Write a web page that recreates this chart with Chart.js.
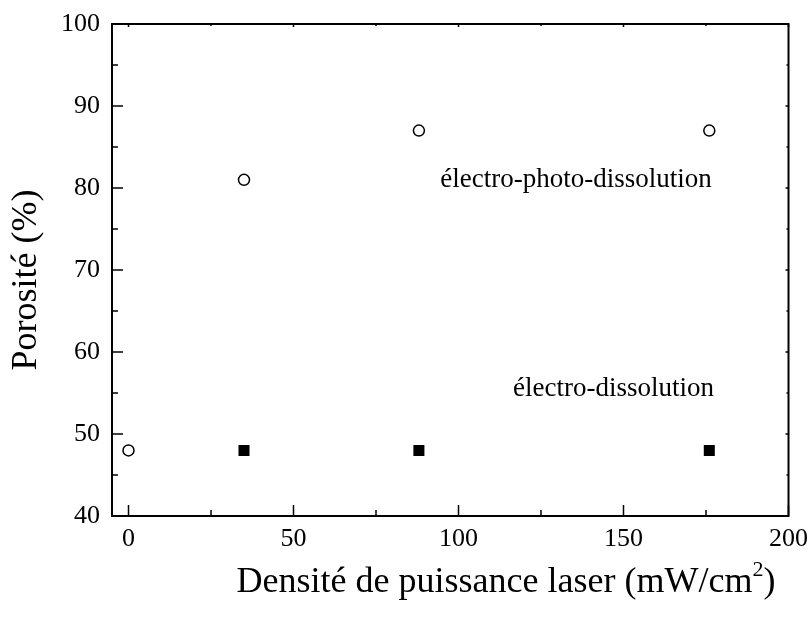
<!DOCTYPE html>
<html lang="fr">
<head>
  <meta charset="UTF-8">
  <title>Porosité vs densité de puissance laser</title>
  <script src="https://cdn.jsdelivr.net/npm/chart.js"></script>
  <style>
    body { margin: 0; background: #fff; }
    #wrap { width: 808px; height: 620px; }
  </style>
</head>
<body>
  <div id="wrap"><canvas id="chart" width="808" height="620"></canvas></div>
  <script>
    // data
    const photoX = [0, 35, 88, 176];
    const photoY = [48, 81, 87, 87];
    const darkX = [35, 88, 176];
    const darkY = [48, 48, 48];
    const xTicks = [0, 50, 100, 150, 200];
    const xMinor = [25, 75, 125, 175];
    const yTicks = [40, 50, 60, 70, 80, 90, 100];
    const yMinor = [45, 55, 65, 75, 85, 95];
    const labels = [
      { text: 'électro-photo-dissolution', x: 94.5, y: 81 },
      { text: 'électro-dissolution', x: 116.5, y: 55.5 }
    ];
    const xTitle = 'Densité de puissance laser (mW/cm';
    const yTitle = 'Porosité (%)';

    const SERIF = '"Liberation Serif", "Times New Roman", serif';

    // box, inward ticks, annotations and axis titles
    const framePlugin = {
      id: 'frame',
      afterDatasetsDraw(chart) {
        const { ctx, chartArea: a, scales: { x, y } } = chart;
        ctx.save();
        ctx.strokeStyle = '#000';
        ctx.lineWidth = 2;
        ctx.strokeRect(a.left, a.top, a.right - a.left, a.bottom - a.top);

        ctx.lineWidth = 1.5;
        ctx.beginPath();
        const tick = (vals, len, mirror) => {
          vals.forEach(v => {
            const px = x.getPixelForValue(v);
            ctx.moveTo(px, a.bottom); ctx.lineTo(px, a.bottom - len);
            ctx.moveTo(px, a.top); ctx.lineTo(px, a.top + mirror);
          });
        };
        tick(xTicks, 11, 3);
        tick(xMinor, 6, 2);
        const ytick = (vals, len, mirror) => {
          vals.forEach(v => {
            const py = y.getPixelForValue(v);
            ctx.moveTo(a.left, py); ctx.lineTo(a.left + len, py);
            ctx.moveTo(a.right, py); ctx.lineTo(a.right - mirror, py);
          });
        };
        ytick(yTicks, 11, 3);
        ytick(yMinor, 6, 2);
        ctx.stroke();

        ctx.fillStyle = '#000';
        ctx.font = '27px ' + SERIF;
        ctx.textBaseline = 'middle';
        ctx.textAlign = 'left';
        labels.forEach(l => {
          ctx.fillText(l.text, x.getPixelForValue(l.x), y.getPixelForValue(l.y));
        });

        // x title with superscript 2
        ctx.font = '36px ' + SERIF;
        ctx.textBaseline = 'alphabetic';
        const w1 = ctx.measureText(xTitle).width;
        ctx.font = '22px ' + SERIF;
        const w2 = ctx.measureText('2').width;
        ctx.font = '36px ' + SERIF;
        const w3 = ctx.measureText(')').width;
        const total = w1 + w2 + w3;
        let sx = 506 - total / 2;
        const base = 592;
        ctx.fillText(xTitle, sx, base);
        ctx.font = '22px ' + SERIF;
        ctx.fillText('2', sx + w1, base - 16);
        ctx.font = '36px ' + SERIF;
        ctx.fillText(')', sx + w1 + w2, base);

        // y title
        ctx.translate(27, 280);
        ctx.rotate(-Math.PI / 2);
        ctx.textAlign = 'center';
        ctx.textBaseline = 'middle';
        ctx.fillText(yTitle, 0, 0);
        ctx.restore();
      }
    };

    new Chart(document.getElementById('chart'), {
      type: 'scatter',
      data: {
        datasets: [
          {
            label: 'électro-photo-dissolution',
            data: photoX.map((v, i) => ({ x: v, y: photoY[i] })),
            pointStyle: 'circle',
            pointRadius: 5.5,
            pointBorderWidth: 1.5,
            pointBorderColor: '#000',
            pointBackgroundColor: '#fff'
          },
          {
            label: 'électro-dissolution',
            data: darkX.map((v, i) => ({ x: v, y: darkY[i] })),
            pointStyle: 'rect',
            pointRadius: 7.8,
            pointBorderWidth: 0,
            pointBorderColor: '#000',
            pointBackgroundColor: '#000'
          }
        ]
      },
      options: {
        responsive: false,
        animation: false,
        layout: { padding: { left: 0, right: 15, top: 24, bottom: 0 } },
        plugins: { legend: { display: false }, tooltip: { enabled: false } },
        scales: {
          x: {
            type: 'linear',
            min: -5,
            max: 200,
            afterBuildTicks: s => { s.ticks = xTicks.map(v => ({ value: v })); },
            afterFit: s => { s.height = 104; },
            grid: { display: false },
            border: { display: false },
            ticks: { color: '#000', padding: 0, maxRotation: 0, font: { family: SERIF, size: 26 } }
          },
          y: {
            type: 'linear',
            min: 40,
            max: 100,
            afterBuildTicks: s => { s.ticks = yTicks.map(v => ({ value: v })); },
            afterFit: s => { s.width = 112; },
            grid: { display: false },
            border: { display: false },
            ticks: { color: '#000', padding: 4, font: { family: SERIF, size: 26 } }
          }
        }
      },
      plugins: [framePlugin]
    });
  </script>
</body>
</html>
